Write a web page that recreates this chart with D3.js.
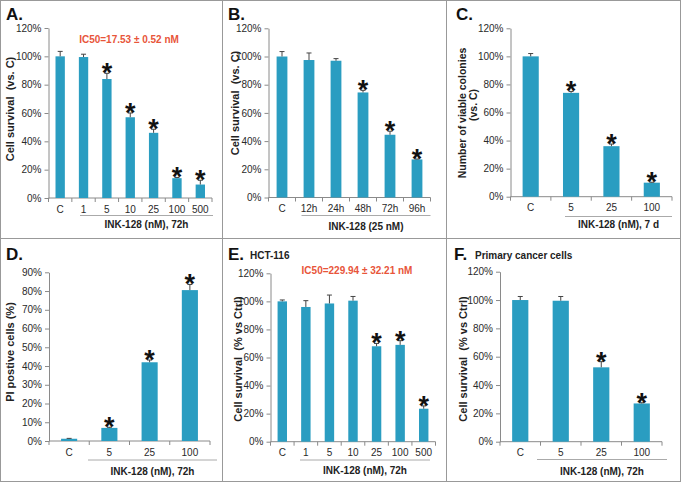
<!DOCTYPE html>
<html><head><meta charset="utf-8">
<script src="https://cdn.jsdelivr.net/npm/d3@7/dist/d3.min.js"></script>
<style>
html,body{margin:0;padding:0;background:#fff;}
svg{display:block;font-family:"Liberation Sans",Arial,sans-serif;}
</style></head>
<body><svg id="c" width="681" height="482"></svg>
<script>
// ---------- DATA ----------
const catA = ["C","1","5","10","25","100","500"];
const valA = [100, 99.5, 84, 57, 46, 14, 9.5];
const errA = [3.5, 2, 4, 3, 2.5, 0.5, 3];
const starA = [0,0,1,1,1,1,1];

const catB = ["C","12h","24h","48h","72h","96h"];
const valB = [100, 97.5, 97, 74.5, 44.5, 27];
const errB = [3.5, 5, 1.5, 1.5, 2.5, 0.3];
const starB = [0,0,0,1,1,1];

const catC = ["C","5","25","100"];
const valC = [100, 74, 36, 10];
const errC = [2, 1, 1.5, 0.3];
const starC = [0,1,1,1];

const catD = ["C","5","25","100"];
const valD = [1.2, 7, 42, 80.5];
const errD = [0.2, 0.3, 1.2, 3];
const starD = [0,1,1,1];

const catE = ["C","1","5","10","25","100","500"];
const valE = [100, 96, 98.5, 100.5, 68, 69, 23.5];
const errE = [1, 4.5, 6, 3, 2, 3, 2];
const starE = [0,0,0,0,1,1,1];

const catF = ["C","5","25","100"];
const valF = [100, 99.5, 52.5, 27];
const errF = [2.5, 3, 4, 0.5];
const starF = [0,0,1,1];

const ticks120 = [0,20,40,60,80,100,120];
const ticks90 = [0,10,20,30,40,50,60,70,80,90];

const yTitleA = ["Cell survival  (vs. C)"];
const yTitleB = ["Cell survival  (vs. C)"];
const yTitleC = ["Number of viable colonies", "(vs. C)"];
const yTitleD = ["PI postive cells (%)"];
const yTitleE = ["Cell survival  (% vs Ctrl)"];
const yTitleF = ["Cell survival  (% vs Ctrl)"];

const xTitleA = "INK-128 (nM), 72h";
const xTitleB = "INK-128 (25 nM)";
const xTitleC = "INK-128 (nM), 7 d";
const xTitleD = "INK-128 (nM), 72h";
const xTitleE = "INK-128 (nM), 72h";
const xTitleF = "INK-128 (nM), 72h";

const icA = "IC50=17.53 ± 0.52 nM";
const icE = "IC50=229.94 ± 32.21 nM";

// ---------- STYLE / LAYOUT ----------
const BAR = "#2a9dc1", AX = "#8a8a8a", TXT = "#2a2a2a", RED = "#e8553a";
const svg = d3.select("#c");

// frame
svg.append("rect").attr("x",0.5).attr("y",0.5).attr("width",680).attr("height",481)
  .attr("fill","none").attr("stroke","#999");
[[222.5,0,222.5,482],[446.5,0,446.5,482],[0,238.5,681,238.5]].forEach(l=>{
  svg.append("line").attr("x1",l[0]).attr("y1",l[1]).attr("x2",l[2]).attr("y2",l[3])
    .attr("stroke","#999").attr("stroke-width",1);
});

function panel(p){
  const g = svg.append("g");
  const x = d3.scaleBand().domain(p.cats).range([p.x0,p.x1]).paddingInner(0.6).paddingOuter(0.3);
  const y = d3.scaleLinear().domain([0,p.ymax]).range([p.yb,p.yt]);
  // y axis
  const ya = g.append("g").attr("transform",`translate(${p.x0},0)`)
    .call(d3.axisLeft(y).tickValues(p.ticks).tickSize(4).tickSizeOuter(0).tickPadding(3).tickFormat(d=>d+"%"));
  ya.select(".domain").attr("stroke",AX);
  ya.selectAll(".tick line").attr("stroke",AX);
  ya.selectAll(".tick text").attr("fill",TXT).attr("font-size",10).attr("font-family","Liberation Sans, Arial, sans-serif");
  // x axis line and boundary ticks
  g.append("line").attr("x1",p.x0).attr("x2",p.x1).attr("y1",y(0)).attr("y2",y(0)).attr("stroke",AX);
  const step = x.step();
  g.selectAll(".bt").data(d3.range(p.cats.length+1)).join("line")
    .attr("x1",i=>p.x0+i*step).attr("x2",i=>p.x0+i*step)
    .attr("y1",y(0)).attr("y2",y(0)+4).attr("stroke",AX);
  // x labels
  g.selectAll(".xl").data(p.cats).join("text")
    .attr("x",d=>x(d)+x.bandwidth()/2).attr("y",y(0)+14.5)
    .attr("text-anchor","middle").attr("font-size",10).attr("fill",TXT).text(d=>d);
  // bars
  const data = p.cats.map((c,i)=>({c,v:p.vals[i],e:p.errs[i],s:p.stars[i]}));
  g.selectAll(".bar").data(data).join("rect")
    .attr("x",d=>x(d.c)).attr("width",x.bandwidth())
    .attr("y",d=>y(d.v)).attr("height",d=>y(0)-y(d.v)).attr("fill",BAR);
  // error bars
  const cx = d=>x(d.c)+x.bandwidth()/2;
  g.selectAll(".eb").data(data).join("line")
    .attr("x1",cx).attr("x2",cx).attr("y1",d=>y(d.v)).attr("y2",d=>y(d.v+d.e))
    .attr("stroke","#444").attr("stroke-width",1);
  g.selectAll(".ec").data(data).join("line")
    .attr("x1",d=>cx(d)-2.5).attr("x2",d=>cx(d)+2.5).attr("y1",d=>y(d.v+d.e)).attr("y2",d=>y(d.v+d.e))
    .attr("stroke","#444").attr("stroke-width",1);
  // stars
  g.selectAll(".st").data(data.filter(d=>d.s)).join("text")
    .attr("x",cx).attr("y",d=>y(d.v+d.e)+9)
    .attr("text-anchor","middle").attr("font-size",27).attr("font-weight","bold").attr("fill","#111").text("*");
  // underline + x title
  g.append("line").attr("x1",p.ul[0]).attr("x2",p.ul[1]).attr("y1",p.ulY).attr("y2",p.ulY).attr("stroke","#aaa");
  g.append("text").attr("x",(p.ul[0]+p.ul[1])/2).attr("y",p.labY).attr("text-anchor","middle")
    .attr("font-size",10).attr("font-weight","bold").attr("fill","#222").text(p.xTitle);
  // y title
  p.yTitle.forEach((t,i)=>{
    g.append("text").attr("transform",`translate(${p.yt_pos[i][0]},${p.yt_pos[i][1]}) rotate(-90)`)
      .attr("text-anchor","middle").attr("font-size",p.ytSize||11).attr("font-weight","bold")
      .attr("fill","#222").style("white-space","pre").text(t);
  });
  // panel letter
  g.append("text").attr("x",p.letterPos[0]).attr("y",p.letterPos[1])
    .attr("font-size",17).attr("font-weight","bold").attr("fill","#111").text(p.letter);
  if(p.sub){
    g.append("text").attr("x",p.sub[1]).attr("y",p.sub[2]).attr("font-size",10)
      .attr("font-weight","bold").attr("fill","#222").text(p.sub[0]);
  }
  if(p.ic){
    g.append("text").attr("x",p.ic[1]).attr("y",p.ic[2]).attr("text-anchor","middle")
      .attr("font-size",10).attr("font-weight","bold").attr("fill",RED).text(p.ic[0]);
  }
}

panel({cats:catA, vals:valA, errs:errA, stars:starA, ymax:120, ticks:ticks120,
  x0:48.5, x1:212, yb:198, yt:28, ul:[80,213], ulY:215.5, labY:228, xTitle:xTitleA,
  yTitle:yTitleA, yt_pos:[[14,109]], letter:"A.", letterPos:[6,20], ic:[icA,129,43]});
panel({cats:catB, vals:valB, errs:errB, stars:starB, ymax:120, ticks:ticks120,
  x0:268.5, x1:430.5, yb:197.5, yt:28.3, ul:[301.5,430.5], ulY:215.5, labY:230, xTitle:xTitleB,
  yTitle:yTitleB, yt_pos:[[238.5,103]], letter:"B.", letterPos:[228,20]});
panel({cats:catC, vals:valC, errs:errC, stars:starC, ymax:120, ticks:ticks120,
  x0:510.5, x1:672, yb:196.7, yt:28.3, ul:[565,672], ulY:216.5, labY:228, xTitle:xTitleC,
  yTitle:yTitleC, yt_pos:[[465.5,113],[477,105]], ytSize:10.5, letter:"C.", letterPos:[456,20]});
panel({cats:catD, vals:valD, errs:errD, stars:starD, ymax:90, ticks:ticks90,
  x0:49, x1:210, yb:441, yt:272.3, ul:[88,217], ulY:460, labY:475, xTitle:xTitleD,
  yTitle:yTitleD, yt_pos:[[14,352]], letter:"D.", letterPos:[6,260]});
panel({cats:catE, vals:valE, errs:errE, stars:starE, ymax:120, ticks:ticks120,
  x0:270.5, x1:435.5, yb:441.7, yt:273.3, ul:[300,430], ulY:460, labY:474, xTitle:xTitleE,
  yTitle:yTitleE, yt_pos:[[241.5,359]], letter:"E.", letterPos:[228,260], sub:["HCT-116",250,259],
  ic:[icE,357,274]});
panel({cats:catF, vals:valF, errs:errF, stars:starF, ymax:120, ticks:ticks120,
  x0:500, x1:662, yb:441.7, yt:271.7, ul:[537,667], ulY:459.5, labY:475, xTitle:xTitleF,
  yTitle:yTitleF, yt_pos:[[466.5,359]], letter:"F.", letterPos:[454,260], sub:["Primary cancer cells",475,259]});
</script>
</body></html>
